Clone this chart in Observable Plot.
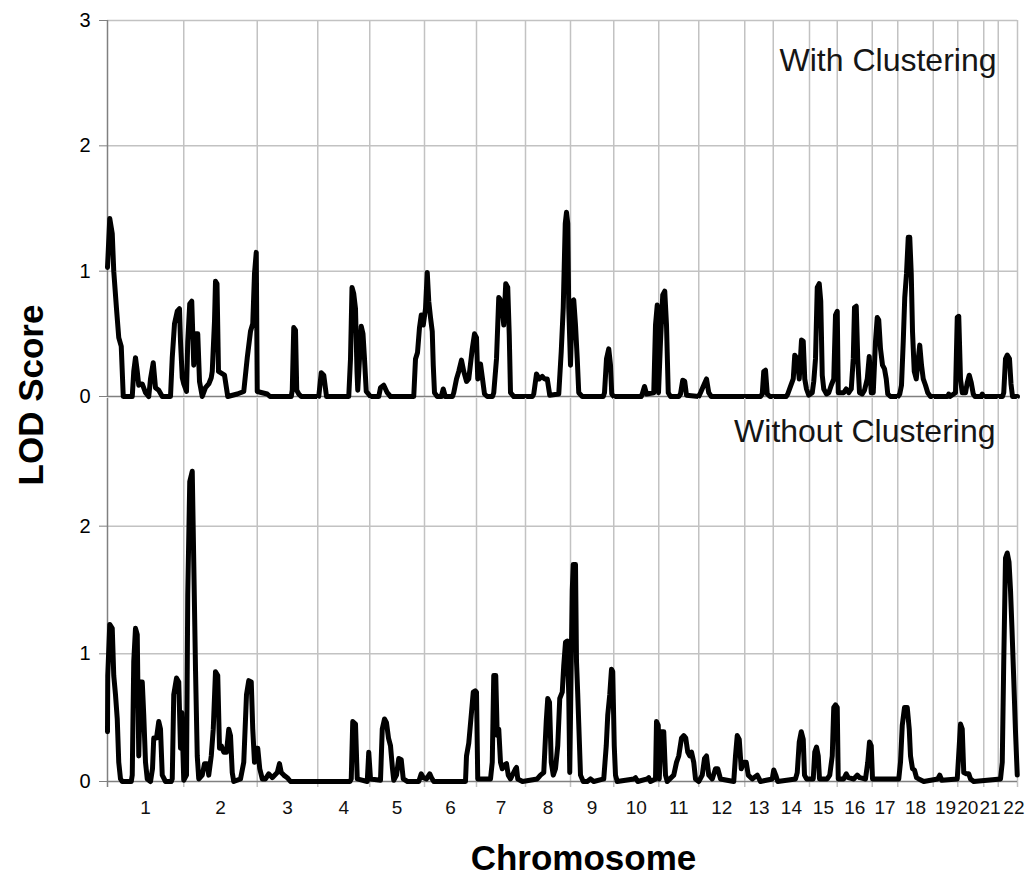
<!DOCTYPE html>
<html><head><meta charset="utf-8">
<script src="https://cdn.jsdelivr.net/npm/d3@7"></script>
<script src="https://cdn.jsdelivr.net/npm/@observablehq/plot@0.6"></script>
<style>
html,body{margin:0;padding:0;background:#fff;}
#chart{position:relative;width:1032px;height:876px;overflow:hidden;}
#chart svg{display:block;}
#ylab{position:absolute;left:30px;top:395px;transform:translate(-50%,-50%) rotate(-90deg);font:bold 35px "Liberation Sans",Arial,sans-serif;white-space:nowrap;line-height:1;color:#000;}
</style></head><body>
<div id="chart"><div id="ylab"></div></div>
<script>
// ---- data ----
const chromosomes = [1,2,3,4,5,6,7,8,9,10,11,12,13,14,15,16,17,18,19,20,21,22];
// genetic length of each chromosome on the plotted position axis (cM-like units)
const chromLengths = [305,294,242,208,219,208,196,180,173,180,160,184,114,145,111,140,102,142,98,104,58,77];
const yTicksTop = [0,1,2,3];
const yTicksBottom = [0,1,2];
const panelLabels = ["With Clustering","Without Clustering"];
const xTitle = "Chromosome";
const yTitle = "LOD Score";

// [cumulative position, LOD]
const withClustering = [
[0,1.03],[9,1.42],[19,1.30],[25,1.0],[36,0.7],[45,0.47],[55,0.4],[63,0],
[99,0],[105,0.2],[112,0.31],[119,0.2],[125,0.09],[132,0.1],[139,0.1],[152,0.03],[165,0],[172,0.14],[183,0.27],[192,0.07],[205,0.05],[219,0],
[252,0],[259,0.31],[268,0.58],[279,0.68],[288,0.7],[292,0.44],[299,0.15],[305,0.1],
[316,0.04],[321,0.44],[329,0.74],[337,0.76],[345,0.25],[353,0.5],[361,0.5],[368,0.12],[379,0],[392,0.07],[405,0.1],[415,0.15],[419,0.2],[428,0.6],[432,0.92],[438,0.9],[444,0.2],[452,0.19],[468,0.17],[481,0],[519,0.02],[545,0.04],[559,0.31],[572,0.52],[581,0.58],[588,0.98],[595,1.15],[599,0.04],
[639,0.02],[650,0],[735,0],[739,0.05],[745,0.55],[752,0.53],[757,0.05],[765,0.02],[775,0],
[845,0],[855,0.19],[865,0.17],[876,0],[965,0],[972,0.3],[978,0.87],[985,0.82],[992,0.7],[998,0.2],[1001,0.05],[1008,0.3],[1015,0.56],[1022,0.5],[1028,0.3],[1035,0.04],[1052,0],
[1085,0],[1092,0.07],[1105,0.09],[1119,0.03],[1132,0],
[1225,0],[1232,0.3],[1240,0.35],[1248,0.55],[1255,0.65],[1263,0.57],[1272,0.7],[1279,0.99],[1285,0.76],[1292,0.63],[1299,0.52],[1303,0.25],[1308,0.03],[1319,0],[1335,0],[1343,0.06],[1351,0],
[1380,0],[1385,0.03],[1396,0.14],[1405,0.2],[1416,0.29],[1425,0.2],[1436,0.12],[1445,0.14],[1459,0.38],[1468,0.5],[1476,0.47],[1481,0.14],[1492,0.26],[1500,0.14],[1508,0.02],[1519,0],
[1540,0],[1545,0.03],[1556,0.3],[1565,0.79],[1576,0.76],[1585,0.57],[1593,0.9],[1601,0.87],[1607,0.49],[1612,0.03],[1625,0],
[1700,0],[1705,0.02],[1716,0.18],[1727,0.14],[1739,0.16],[1748,0.14],[1759,0.14],[1769,0.01],[1805,0.02],[1815,0.36],[1823,0.71],[1831,1.38],[1836,1.47],[1841,1.38],[1845,0.71],[1852,0.25],[1859,0.76],[1865,0.77],[1872,0.57],[1879,0.3],[1885,0.03],[1899,0],
[1983,0],[1988,0.03],[1996,0.3],[2005,0.38],[2012,0.25],[2017,0.02],[2025,0],
[2135,0],[2139,0.02],[2148,0.08],[2156,0.02],[2185,0.03],[2192,0.57],[2199,0.73],[2204,0.03],[2212,0.44],[2221,0.81],[2229,0.84],[2236,0.57],[2243,0.03],[2252,0],
[2285,0],[2292,0.02],[2301,0.13],[2309,0.12],[2316,0.01],[2365,0],
[2372,0.03],[2385,0.09],[2396,0.14],[2405,0.03],[2415,0],
[2612,0],[2619,0.02],[2625,0.2],[2632,0.21],[2639,0.02],[2650,0],
[2715,0],[2721,0.02],[2732,0.08],[2743,0.14],[2749,0.33],[2759,0.3],[2767,0.14],[2776,0.45],[2783,0.44],[2789,0.14],[2796,0.06],[2805,0.01],
[2819,0.03],[2825,0.12],[2832,0.3],[2839,0.87],[2847,0.9],[2853,0.76],[2859,0.17],[2865,0.06],[2876,0.02],[2885,0.03],[2895,0.09],[2905,0.14],[2912,0.65],[2919,0.68],[2923,0.03],
[2945,0.03],[2955,0.06],[2965,0.03],[2975,0.06],[2983,0.3],[2988,0.71],[2995,0.72],[3001,0.3],[3008,0.03],[3019,0.02],[3028,0.05],[3039,0.14],[3047,0.32],[3055,0.03],
[3063,0.03],[3072,0.44],[3079,0.63],[3085,0.61],[3092,0.38],[3100,0.25],[3108,0.22],[3115,0.14],[3121,0.02],[3132,0],
[3162,0],[3169,0.02],[3176,0.09],[3183,0.44],[3189,0.79],[3196,0.98],[3203,1.27],[3209,1.27],[3215,0.98],[3220,0.52],[3227,0.2],[3235,0.14],[3243,0.3],[3249,0.41],[3256,0.25],[3263,0.14],[3272,0.09],[3281,0.03],[3292,0],
[3360,0],[3365,0.02],[3370,0],[3392,0.03],[3399,0.63],[3405,0.64],[3412,0.14],[3419,0.03],[3432,0.03],[3439,0.11],[3447,0.17],[3455,0.11],[3463,0.02],[3470,0],[3495,0],[3499,0.02],[3503,0],
[3580,0],[3585,0.03],[3592,0.3],[3599,0.33],[3608,0.3],[3614,0.1],[3620,0],[3640,0]
];

const withoutClustering = [
[0,0.39],[1,0.83],[9,1.23],[19,1.2],[25,0.83],[32,0.68],[39,0.49],[45,0.15],[52,0.02],[59,0],
[95,0],[99,0.05],[105,0.94],[112,1.2],[119,1.15],[125,0.2],[132,0.78],[139,0.78],[145,0.52],[152,0.15],[159,0.02],[172,0],[180,0.1],[185,0.34],[196,0.34],[205,0.47],[212,0.41],[219,0.05],[232,0],
[255,0],[259,0.02],[265,0.68],[276,0.81],[285,0.78],[292,0.26],[297,0.54],[305,0.01],
[316,0.05],[321,1.46],[329,2.35],[339,2.43],[345,1.72],[352,0.88],[359,0.2],[365,0.02],[379,0.05],[388,0.14],[399,0.14],[405,0.05],[415,0.2],[423,0.41],[432,0.86],[441,0.83],[448,0.26],[455,0.28],[465,0.23],[476,0.23],[485,0.41],[492,0.36],[499,0.07],[505,0],
[532,0.02],[545,0.15],[556,0.68],[565,0.79],[575,0.78],[581,0.41],[588,0.15],[596,0.26],[601,0.26],[609,0.1],[619,0.02],
[632,0.02],[645,0.06],[659,0.03],[679,0.07],[688,0.14],[695,0.07],[705,0.05],[719,0.03],[732,0],
[970,0],[975,0.02],[981,0.47],[992,0.45],[999,0.02],[1039,0],[1045,0.23],[1052,0.02],
[1092,0.01],[1099,0.41],[1108,0.49],[1116,0.46],[1124,0.34],[1132,0.28],[1140,0.1],[1145,0.01],[1156,0.05],[1165,0.18],[1175,0.17],[1183,0.02],[1200,0],
[1245,0],[1255,0.06],[1263,0.03],[1276,0.02],[1289,0.06],[1296,0.03],[1305,0],
[1432,0],[1436,0.2],[1445,0.3],[1455,0.52],[1463,0.7],[1471,0.71],[1476,0.7],[1481,0.02],
[1532,0.02],[1539,0.15],[1545,0.83],[1553,0.83],[1559,0.36],[1565,0.41],[1572,0.15],[1579,0.1],[1588,0.13],[1596,0.14],[1603,0.05],[1612,0.02],[1632,0.1],[1636,0.11],[1641,0.02],[1660,0],
[1719,0.02],[1732,0.05],[1745,0.07],[1755,0.47],[1761,0.65],[1768,0.62],[1775,0.15],[1783,0.05],[1792,0.1],[1801,0.28],[1809,0.65],[1819,0.7],[1825,0.91],[1832,1.09],[1839,1.1],[1845,0.68],[1849,0.07],[1855,0.94],[1859,1.5],[1863,1.7],[1872,1.7],[1876,0.94],[1881,0.68],[1888,0.28],[1892,0.05],[1903,0],
[1919,0],[1932,0.02],[1945,0],[1985,0.02],[1995,0.28],[2001,0.52],[2009,0.68],[2016,0.88],[2021,0.86],[2027,0.28],[2032,0.05],[2039,0],
[2105,0.02],[2112,0.03],[2121,0],[2159,0.02],[2165,0.03],[2172,0],[2192,0.02],[2196,0.47],[2203,0.44],[2207,0.02],[2215,0.39],[2225,0.39],[2232,0.05],[2239,0],
[2265,0.05],[2276,0.15],[2285,0.2],[2296,0.34],[2305,0.36],[2313,0.34],[2321,0.23],[2329,0.2],[2336,0.23],[2345,0.15],[2352,0.02],[2365,0],
[2379,0.05],[2388,0.18],[2396,0.2],[2405,0.05],[2419,0.02],[2432,0.1],[2441,0.1],[2452,0.02],[2505,0],[2512,0.2],[2519,0.36],[2527,0.33],[2535,0.1],[2545,0.15],[2555,0.15],[2563,0.05],[2579,0.02],[2599,0.05],[2612,0],
[2659,0.02],[2665,0.09],[2673,0.05],[2681,0],
[2752,0.02],[2759,0.07],[2767,0.31],[2775,0.39],[2783,0.33],[2788,0.05],[2796,0.02],
[2823,0.02],[2829,0.23],[2836,0.27],[2843,0.2],[2848,0.02],[2879,0.02],[2889,0.05],[2899,0.2],[2905,0.58],[2912,0.6],[2919,0.58],[2923,0.02],
[2945,0.02],[2955,0.06],[2963,0.03],[2985,0.02],[2999,0.05],[3009,0.03],[3032,0.02],[3041,0.15],[3048,0.31],[3055,0.28],[3060,0.02],
[3165,0.02],[3172,0.15],[3179,0.44],[3188,0.58],[3199,0.58],[3207,0.41],[3212,0.2],[3220,0.1],[3228,0.09],[3236,0.03],[3245,0.02],[3265,0],
[3321,0.02],[3329,0.05],[3337,0.01],[3399,0.02],[3407,0.28],[3412,0.45],[3419,0.41],[3425,0.07],[3435,0.06],[3445,0.06],[3452,0.02],[3465,0],
[3572,0.02],[3579,0.15],[3585,0.94],[3592,1.75],[3599,1.79],[3606,1.72],[3612,1.5],[3618,1.19],[3625,0.8],[3632,0.39],[3639,0.05]
];

// ---- derived ----
const boundaries = Array.from(d3.cumsum([0, ...chromLengths]));
const total = boundaries[boundaries.length - 1];
const labelRows = chromosomes.map((c, i) => ({label: String(c), x: boundaries[i] + chromLengths[i] / 2}));

const FONT = '"Liberation Sans", Arial, Helvetica, sans-serif';
const GRID = "#c2c2c2";
const AXIS = "#808080";

const common = {
  width: 1032,
  marginLeft: 107,
  marginRight: 15,
  x: {domain: [0, total], axis: null},
  y: {domain: [0, 3], axis: null},
  style: {fontFamily: FONT, fontSize: "20px", color: "#000", background: "transparent", overflow: "visible", display: "block"}
};

const lineOpts = {x: d => d[0], y: d => d[1], stroke: "#000", strokeWidth: 5, strokeLinejoin: "round", strokeLinecap: "round"};
const yAxisOpts = {tickSize: 8, tickPadding: 9, stroke: AXIS, fill: "#000", fontSize: 20, label: null, tickFormat: d => String(d)};

// x labels: the crowded last few are nudged apart slightly, as in the original
const xLabelOpts = {x: "x", y: 0, text: "label", frameAnchor: null, lineAnchor: "top", dy: 19, fontSize: 19, fill: "#111"};
const n = labelRows.length;

const topPlot = Plot.plot({
  ...common,
  height: 397, marginTop: 20, marginBottom: 1,
  marks: [
    Plot.ruleY([1, 2, 3], {stroke: GRID, strokeWidth: 1.5}),
    Plot.ruleX(boundaries.slice(1), {stroke: GRID, strokeWidth: 1.5}),
    Plot.ruleX([0], {stroke: AXIS, strokeWidth: 1.5}),
    Plot.ruleY([0], {stroke: AXIS, strokeWidth: 1.5}),
    Plot.axisY(yTicksTop, yAxisOpts),
    Plot.line(withClustering, lineOpts),
    Plot.text([panelLabels[0]], {frameAnchor: "top-right", textAnchor: "end", lineAnchor: "top", dx: -21, dy: 28, fontSize: 32, fill: "#151515"})
  ]
});

const bottomPlot = Plot.plot({
  ...common,
  height: 479, marginTop: 1, marginBottom: 95,
  marks: [
    Plot.ruleY([1, 2], {stroke: GRID, strokeWidth: 1.5}),
    Plot.ruleX(boundaries.slice(1), {stroke: GRID, strokeWidth: 1.5, insetBottom: -6}),
    Plot.ruleX([0], {stroke: AXIS, strokeWidth: 1.5, insetBottom: -6}),
    Plot.ruleY([0], {stroke: AXIS, strokeWidth: 1.5}),
    Plot.axisY(yTicksBottom, yAxisOpts),
    Plot.text(labelRows.slice(0, n - 3), xLabelOpts),
    Plot.text(labelRows.slice(n - 3, n - 2), {...xLabelOpts, dx: -3}),
    Plot.text(labelRows.slice(n - 2, n - 1), {...xLabelOpts, dx: -1}),
    Plot.text(labelRows.slice(n - 1), {...xLabelOpts, dx: 6}),
    Plot.line(withoutClustering, lineOpts),
    Plot.text([panelLabels[1]], {frameAnchor: "top-right", textAnchor: "end", lineAnchor: "top", dx: -22, dy: 21, fontSize: 32, fill: "#151515"}),
    Plot.text([xTitle], {frameAnchor: "bottom", lineAnchor: "bottom", dx: 21, dy: 88, fontSize: 35, fontWeight: "bold", fill: "#000"})
  ]
});

const chart = document.getElementById("chart");
document.getElementById("ylab").textContent = yTitle;
chart.appendChild(topPlot);
chart.appendChild(bottomPlot);
</script>
</body></html>
